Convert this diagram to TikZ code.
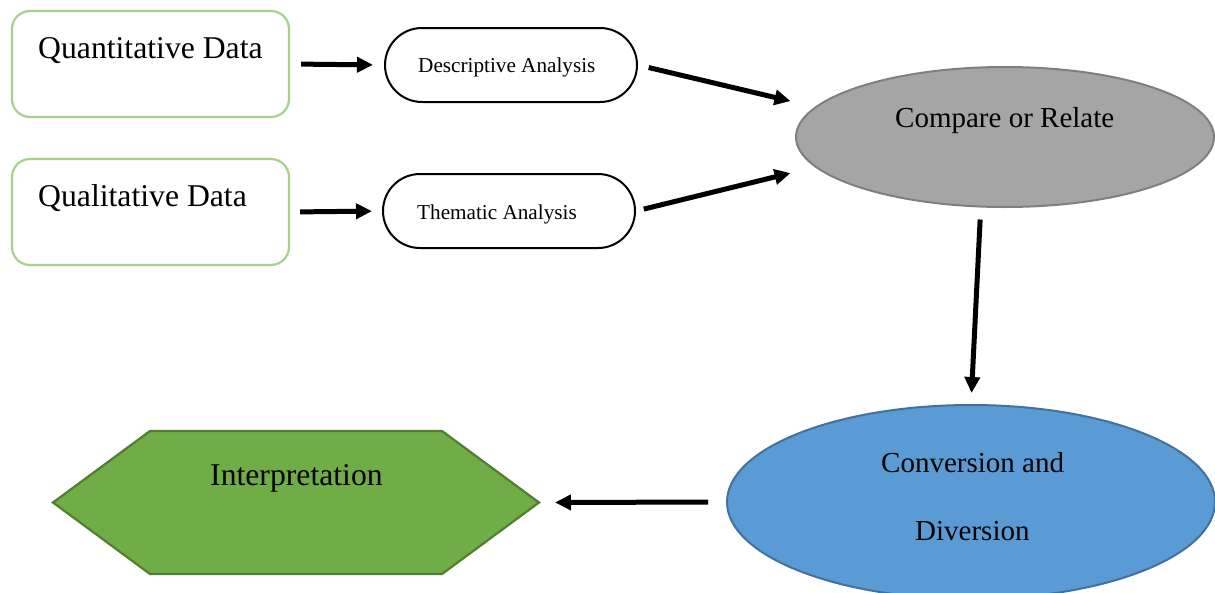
\documentclass[tikz,border=0pt]{standalone}
\usepackage{fontspec}
\setmainfont{Liberation Serif}
\usetikzlibrary{arrows.meta,shapes.geometric}

\definecolor{boxgreen}{HTML}{A9D18E}
\definecolor{grayfill}{HTML}{A5A5A5}
\definecolor{grayedge}{HTML}{7F7F7F}
\definecolor{bluefill}{HTML}{5B9BD5}
\definecolor{blueedge}{HTML}{41719C}
\definecolor{greenfill}{HTML}{70AD47}
\definecolor{greenedge}{HTML}{507E32}

\newcommand\fsbig{\fontsize{31.7pt}{38pt}\selectfont}
\newcommand\fsmid{\fontsize{29pt}{35pt}\selectfont}
\newcommand\fssmall{\fontsize{21.2pt}{25pt}\selectfont}

\tikzset{
  databox/.style={draw=boxgreen, line width=2.2pt, rounded corners=18pt,
    minimum width=277pt, minimum height=106pt, inner sep=0pt},
  stadium/.style={draw=black, line width=2pt, rounded corners=37pt,
    minimum width=252pt, minimum height=74pt, inner sep=0pt},
  oval/.style={ellipse, line width=2pt, inner sep=0pt},
  txt/.style={inner sep=0pt, anchor=base west},
  flow/.style={line width=5pt, -{Triangle[length=16pt,width=15pt]}},
}

\begin{document}
\begin{tikzpicture}[x=1pt, y=-1pt]
  \clip (0,0) rectangle (1215,592);
  \fill[white] (0,0) rectangle (1215,592);

  % data sources
  \node[databox] (qt) at (150.5,64) {};
  \node[databox] (ql) at (150.5,212) {};

  % analysis steps
  \node[stadium] (da) at (511,65) {};
  \node[stadium] (ta) at (509,211) {};

  % comparison and conversion
  \node[oval, draw=grayedge, fill=grayfill,
        minimum width=418pt, minimum height=140pt] (cr) at (1005,137) {};
  \node[oval, draw=blueedge, fill=bluefill,
        minimum width=488pt, minimum height=194pt] (cd) at (971,502) {};

  % interpretation hexagon, outlined from a frame node
  \node[minimum width=486pt, minimum height=143pt, inner sep=0pt, outer sep=0pt] (ih) at (296,502.5) {};
  \filldraw[fill=greenfill, draw=greenedge, line width=2.2pt, line join=miter]
    (ih.west) -- ([xshift=97pt]ih.north west) -- ([xshift=-97pt]ih.north east)
    -- (ih.east) -- ([xshift=-97pt]ih.south east) -- ([xshift=97pt]ih.south west) -- cycle;

  % labels
  \node[txt, font=\fsbig] (tqt) at (38,58) {Quantitative Data};
  \node[txt, font=\fsbig] (tql) at (38,206) {Qualitative Data};
  \node[txt, font=\fssmall] (tda) at (418,72) {Descriptive Analysis};
  \node[txt, font=\fssmall] (tta) at (417,219) {Thematic Analysis};
  \node[txt, font=\fsmid] (tcr) at (895,127) {Compare or Relate};
  \node[txt, font=\fsmid] (tcd1) at (881,472) {Conversion and};
  \node[txt, font=\fsmid] (tcd2) at (915,540) {Diversion};
  \node[txt, font=\fsbig] (tih) at (210,485) {Interpretation};

  % connectors
  \draw[flow, shorten <=11pt, shorten >=11pt] (qt.east) -- (da.west);
  \draw[flow, shorten <=10pt, shorten >=10pt] (ql.east) -- (ta.west);
  \draw[flow, shorten <=11pt, shorten >=25pt] (da.east) -- (cr.171);
  \draw[flow, shorten <=8pt, shorten >=25pt] (ta.east) -- (cr.189);
  \draw[flow, shorten <=12pt, shorten >=11pt] (cr.251.5) -- (cd.north);
  \draw[flow, shorten <=18pt, shorten >=16pt] (cd.west) -- (ih.east);
\end{tikzpicture}
\end{document}
